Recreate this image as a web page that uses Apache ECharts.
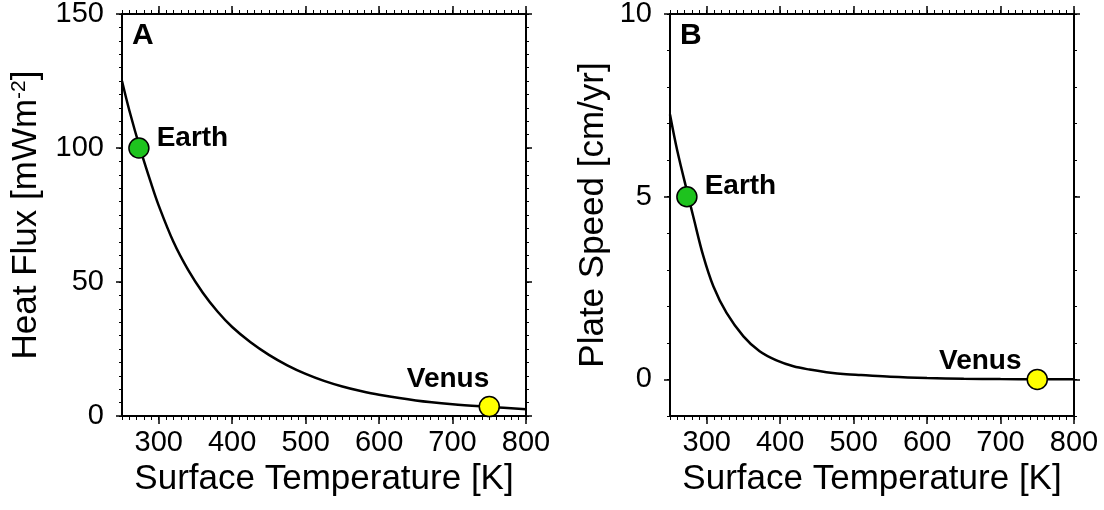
<!DOCTYPE html>
<html>
<head>
<meta charset="utf-8">
<script src="https://cdn.jsdelivr.net/npm/echarts@6/dist/echarts.min.js"></script>
<style>
  html, body { margin: 0; padding: 0; background: #fff; }
  #main { width: 1104px; height: 510px; }
</style>
</head>
<body>
<div id="main"></div>
<script>
const FONT = "'Liberation Sans', Arial, Helvetica, sans-serif"

// panel A: heat flux vs surface temperature
const tempA = [250, 260, 275, 290, 300, 320, 340, 360, 380, 400, 425, 450, 475, 500, 525, 550, 575, 600, 650, 700, 750, 800]
const fluxA = [125, 114, 99.5, 86.5, 78.5, 65, 54.5, 46, 39, 33.2, 27.5, 22.8, 18.9, 15.7, 13.1, 11.0, 9.3, 7.9, 5.8, 4.4, 3.4, 2.5]

// panel B: plate speed vs surface temperature
const tempB = [250, 260, 275, 282, 295, 309, 327, 350, 372, 395, 418, 440, 463, 490, 510, 550, 600, 650, 700, 750, 800]
const speedB = [7.25, 6.25, 5.0, 4.43, 3.4, 2.55, 1.82, 1.18, 0.77, 0.52, 0.36, 0.27, 0.2, 0.14, 0.12, 0.075, 0.04, 0.02, 0.01, 0.005, 0.003]

// planets
const planets = ["Earth", "Venus"]
const planetTemp = [273, 750]
const planetFlux = [100, 3.5]
const planetSpeed = [5, 0]

// ticks
const xMajor = [300, 400, 500, 600, 700, 800]
const yMajorA = [0, 50, 100, 150]
const yMajorB = [0, 5, 10]

const black = "#000"

// one axis pair (major + minor) on one side of a grid
function axisPair(grid, side, min, max, major, minorStep, majorLen, minorLen, withLabels, name, nameGap, nameStyle) {
  const major_ = {
    type: "value", gridIndex: grid, position: side, min: min, max: max, interval: minorStep,
    axisLine: { show: true, onZero: false, lineStyle: { color: black, width: 2 } },
    axisTick: { show: true, customValues: major, length: majorLen, lineStyle: { color: black, width: 1.5 } },
    axisLabel: withLabels
      ? { show: true, customValues: major, color: black, fontSize: 29, fontFamily: FONT, margin: side === "bottom" ? 12 : 18 }
      : { show: false },
    splitLine: { show: false },
  }
  if (name) {
    major_.name = name
    major_.nameLocation = "middle"
    major_.nameGap = nameGap
    major_.nameTextStyle = nameStyle
  }
  const minor_ = {
    type: "value", gridIndex: grid, position: side, min: min, max: max, interval: minorStep,
    axisLine: { show: false, onZero: false },
    axisTick: { show: true, length: minorLen, lineStyle: { color: black, width: 1 } },
    axisLabel: { show: false },
    splitLine: { show: false },
  }
  return [major_, minor_]
}

const xNameStyle = { color: black, fontSize: 35, fontFamily: FONT }
const yNameStyleA = {
  color: black, fontFamily: FONT,
  rich: {
    a: { fontSize: 35, fontFamily: FONT, color: black },
    s: { fontSize: 21, fontFamily: FONT, color: black, verticalAlign: "top" },
  },
}

const xAxis = [
  ...axisPair(0, "bottom", 250, 800, xMajor, 10, 8, 4, true, "Surface Temperature [K]", 43, xNameStyle),
  ...axisPair(0, "top", 250, 800, xMajor, 10, 8, 4, false),
  ...axisPair(1, "bottom", 250, 800, xMajor, 10, 8, 4, true, "Surface Temperature [K]", 43, xNameStyle),
  ...axisPair(1, "top", 250, 800, xMajor, 10, 8, 4, false),
]
const yAxis = [
  ...axisPair(0, "left", 0, 150, yMajorA, 5, 6, 3, true, "{a|Heat Flux [mWm}{s|-2}{a|]}", 78, yNameStyleA),
  ...axisPair(0, "right", 0, 150, yMajorA, 5, 6, 3, false),
  ...axisPair(1, "left", -1, 10, yMajorB, 1, 6, 3, true, "Plate Speed [cm/yr]", 59, xNameStyle),
  ...axisPair(1, "right", -1, 10, yMajorB, 1, 6, 3, false),
]

function zip(xs, ys) {
  return xs.map((x, i) => [x, ys[i]])
}

function planetSeries(xIdx, yIdx, i, value, color, label) {
  return {
    type: "scatter", xAxisIndex: xIdx, yAxisIndex: yIdx, z: 5,
    data: [[planetTemp[i], value]],
    symbolSize: 20,
    itemStyle: { color: color, borderColor: black, borderWidth: 1.5, opacity: 1 },
    label: Object.assign({
      show: true, formatter: planets[i], color: black,
      fontSize: 28, fontWeight: "bold", fontFamily: FONT,
    }, label),
  }
}

const curve = { type: "line", showSymbol: false, symbol: "none", smooth: 0.35, lineStyle: { color: black, width: 2.5 } }

const option = {
  animation: false,
  backgroundColor: "#fff",
  grid: [
    { left: 122, top: 14, width: 404, height: 402, outerBoundsMode: "none", containLabel: false },
    { left: 670, top: 14, width: 404, height: 402, outerBoundsMode: "none", containLabel: false },
  ],
  xAxis: xAxis,
  yAxis: yAxis,
  graphic: [
    { type: "text", left: 132, top: 21, style: { text: "A", font: "bold 30px " + FONT, fill: black } },
    { type: "text", left: 680, top: 21, style: { text: "B", font: "bold 30px " + FONT, fill: black } },
  ],
  series: [
    Object.assign({}, curve, { xAxisIndex: 0, yAxisIndex: 0, data: zip(tempA, fluxA) }),
    Object.assign({}, curve, { xAxisIndex: 4, yAxisIndex: 4, data: zip(tempB, speedB) }),
    planetSeries(0, 0, 0, planetFlux[0], "#1ec31e", { position: "right", distance: 7, offset: [0, -10] }),
    planetSeries(0, 0, 1, planetFlux[1], "#ffff00", { position: "top", align: "right", distance: 3, offset: [0, 0] }),
    planetSeries(4, 4, 0, planetSpeed[0], "#1ec31e", { position: "right", distance: 7, offset: [0, -10] }),
    planetSeries(4, 4, 1, planetSpeed[1], "#ffff00", { position: "left", distance: 5, offset: [0, -18] }),
  ],
}

const myChart = echarts.init(document.getElementById("main"))
option && myChart.setOption(option)
</script>
</body>
</html>
